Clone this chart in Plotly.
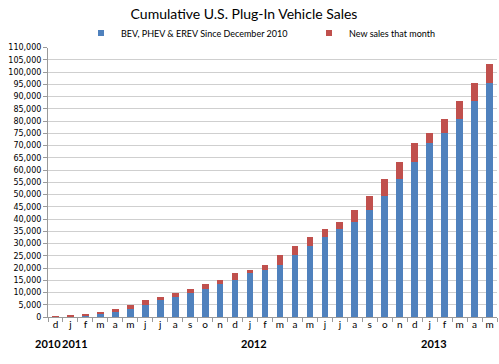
import plotly.graph_objects as go

# ---- data ----
month_labels = ["d", "j", "f", "m", "a", "m", "j", "j", "a", "s", "o", "n",
                "d", "j", "f", "m", "a", "m", "j", "j", "a", "s", "o", "n",
                "d", "j", "f", "m", "a", "m"]
# cumulative sales before the month (blue)
prior_cumulative = [0, 345, 753, 1101, 2007, 3073, 4696, 6965, 8021, 9685,
                    11439, 13395, 15300, 18000, 19360, 21080, 25200, 29080,
                    32560, 35880, 38800, 43480, 49480, 56300, 63150, 70950,
                    75300, 80680, 88280, 95480]
# new sales in the month (red)
new_sales = [345, 408, 348, 906, 1066, 1623, 2269, 1056, 1664, 1754,
             1956, 1905, 2700, 1360, 1720, 4120, 3880, 3480, 3320, 2920,
             4680, 6000, 6820, 6850, 7800, 4350, 5380, 7600, 7200, 7880]
year_labels = ["2010", "2011", "2012", "2013"]
year_positions = [0, 1, 13, 25]
year_shifts = [-7, 5, 4, 4]
y_ticks = list(range(0, 110001, 5000))

BLUE = "#4F81BD"
RED = "#C0504D"
W, H = 499, 364
ML, MR, MT, MB = 48, 2, 41, 47
PW = W - ML - MR

x = list(range(len(month_labels)))

fig = go.Figure()
fig.add_trace(go.Bar(x=x, y=prior_cumulative, marker_color=BLUE,
                     marker_line_width=0, showlegend=False,
                     name="BEV, PHEV & EREV Since December 2010"))
fig.add_trace(go.Bar(x=x, y=new_sales, marker_color=RED,
                     marker_line_width=0, showlegend=False,
                     name="New sales that month"))
# legend entries with small square swatches
fig.add_trace(go.Scatter(x=[None], y=[None], mode="markers",
                         marker=dict(symbol="square", size=6, color=BLUE),
                         name="BEV, PHEV & EREV Since December 2010",
                         legend="legend"))
fig.add_trace(go.Scatter(x=[None], y=[None], mode="markers",
                         marker=dict(symbol="square", size=6, color=RED),
                         name="New sales that month", legend="legend2"))

for lab, pos, sh in zip(year_labels, year_positions, year_shifts):
    fig.add_annotation(x=pos, y=-0.1, xref="x", yref="paper", text=lab,
                       showarrow=False, xshift=sh, yanchor="middle",
                       font=dict(family="Lato", size=11, color="#000000",
                                 weight="bold"))

legend_common = dict(orientation="h", xanchor="left", y=1 - 33 / H,
                     yref="container", yanchor="middle", itemsizing="trace",
                     itemwidth=30,
                     font=dict(family="Lato", size=9, color="#000000"),
                     bgcolor="rgba(0,0,0,0)")

fig.update_layout(
    width=W, height=H,
    margin=dict(l=ML, r=MR, t=MT, b=MB),
    paper_bgcolor="white", plot_bgcolor="white",
    barmode="stack", bargap=0.55,
    title=dict(text="Cumulative U.S. Plug-In Vehicle Sales",
               x=0.489, xanchor="center", y=1 - 14 / H, yanchor="middle",
               yref="container",
               font=dict(family="Lato", size=14, color="#000000")),
    legend=dict(x=(81 - ML) / PW, **legend_common),
    legend2=dict(x=(309 - ML) / PW, **legend_common),
    xaxis=dict(range=[-0.5, len(month_labels) - 0.5], automargin=False,
               tickmode="array", tickvals=x, ticktext=month_labels,
               ticks="", showgrid=False, zeroline=False,
               showline=True, linecolor="#9A9A9A", linewidth=1,
               ticklabelstandoff=-2,
               tickfont=dict(family="Lato", size=10, color="#000000"),
               minor=dict(tickmode="array",
                          tickvals=[i - 0.5 for i in range(len(month_labels) + 1)],
                          ticks="outside", ticklen=4, tickcolor="#9A9A9A",
                          showgrid=False)),
    yaxis=dict(range=[0, 110000], tickmode="array", tickvals=y_ticks,
               automargin=False,
               ticktext=[f"{v:,}" for v in y_ticks],
               ticks="outside", ticklen=4, tickcolor="#9A9A9A",
               showline=True, linecolor="#9A9A9A", linewidth=1,
               showgrid=True, gridcolor="#CFCFCF", gridwidth=1,
               zeroline=False,
               tickfont=dict(family="DejaVu Sans", size=8, color="#000000")),
)

fig.write_html("out.html", config={"displayModeBar": False},
               post_script="document.body.style.margin='0';"
                           "document.body.style.overflow='hidden';")
